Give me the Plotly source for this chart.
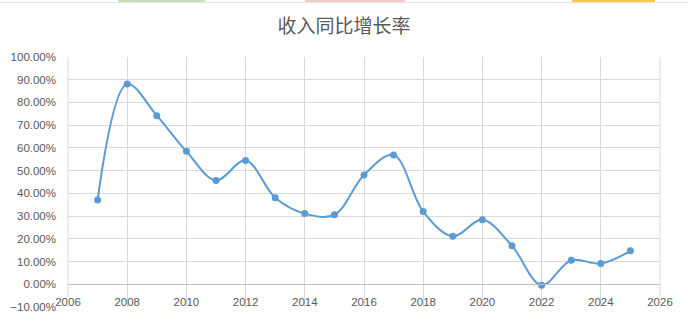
import plotly.graph_objects as go

years = [2007, 2008, 2009, 2010, 2011, 2012, 2013, 2014, 2015, 2016,
         2017, 2018, 2019, 2020, 2021, 2022, 2023, 2024, 2025]
growth = [0.371, 0.881, 0.742, 0.585, 0.457, 0.545, 0.381, 0.311, 0.306, 0.481,
          0.569, 0.320, 0.211, 0.284, 0.169, -0.004, 0.106, 0.091, 0.147]
title_text = "收入同比增长率"

y_min, y_max = -0.1, 1.0
x_min, x_max = 2006, 2026

line_color = "#5B9BD5"
grid_color = "#D9D9D9"
text_color = "#595959"

W, H = 688, 323
ML, MR, MT, MB = 68, 28, 57, 16
PW, PH = W - ML - MR, H - MT - MB


def px_x(p):
    return (p - ML) / PW


def px_y(p):
    return (H - MB - p) / PH


fig = go.Figure()
fig.add_trace(go.Scatter(
    x=years, y=growth, mode="lines+markers",
    line=dict(color=line_color, width=2, shape="spline", smoothing=1.0),
    marker=dict(color=line_color, size=7),
    showlegend=False,
))

strips = [(118, 205, "#C9E0B8"), (305, 405, "#F2CBC2"), (572, 655, "#F5C94A")]
shapes = [
    dict(type="line", xref="paper", yref="paper", x0=1, x1=1, y0=0, y1=1,
         line=dict(color=grid_color, width=1)),
    dict(type="line", xref="paper", yref="paper", x0=0, x1=0, y0=0, y1=1,
         line=dict(color=grid_color, width=1)),
    dict(type="line", xref="paper", yref="paper", x0=px_x(0), x1=px_x(W), y0=px_y(2.5), y1=px_y(2.5),
         line=dict(color="#E3E3E3", width=1)),
]
for a, b, c in strips:
    shapes.append(dict(type="rect", xref="paper", yref="paper", x0=px_x(a), x1=px_x(b),
                       y0=px_y(2), y1=px_y(0), fillcolor=c, line=dict(width=0)))

fig.update_layout(
    width=W, height=H,
    margin=dict(l=ML, r=MR, t=MT, b=MB, autoexpand=False),
    paper_bgcolor="white", plot_bgcolor="white",
    title=dict(text=title_text, x=0.5, xanchor="center", y=1 - 26 / H, yanchor="middle",
               font=dict(family="Noto Sans CJK SC", size=19, color=text_color)),
    font=dict(family="Liberation Sans", size=11, color=text_color),
    xaxis=dict(range=[x_min, x_max], dtick=2, tick0=2006, showgrid=True, gridcolor=grid_color,
               gridwidth=1, zeroline=False, showline=True, linecolor="#BFBFBF",
               anchor="free", position=(0 - y_min) / (y_max - y_min), automargin=False,
               ticks="", ticklabelstandoff=7, tickfont=dict(size=11.5, color=text_color)),
    yaxis=dict(range=[y_min, y_max], dtick=0.1, tick0=0, tickformat=".2%", showgrid=True,
               gridcolor=grid_color, gridwidth=1, zeroline=False, showline=False, automargin=False,
               ticks="", ticklabelstandoff=11, tickfont=dict(size=11.5, color=text_color)),
    shapes=shapes,
)

fig.write_html("out.html")
